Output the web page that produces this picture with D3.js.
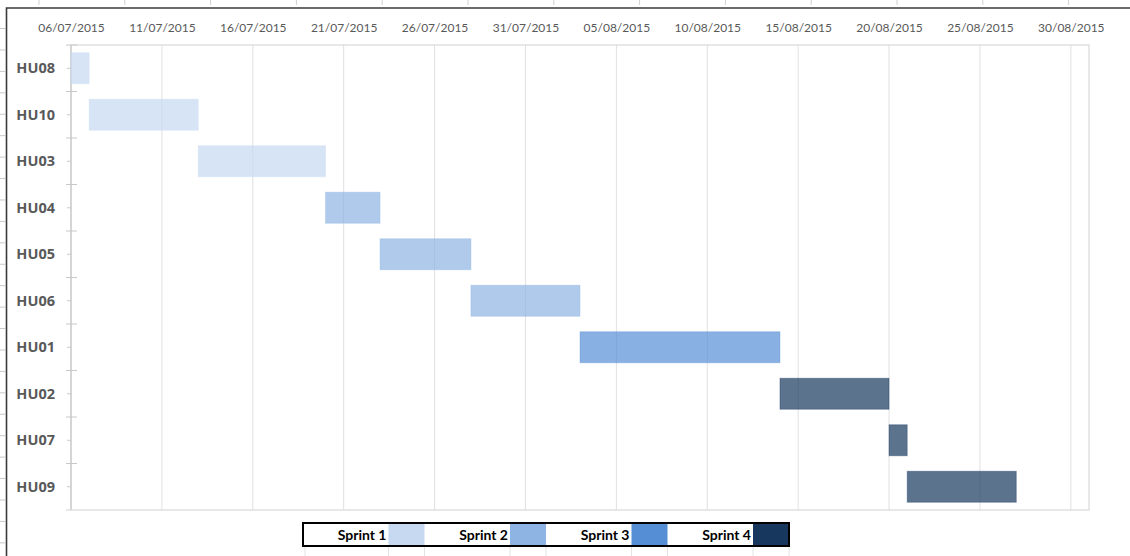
<!DOCTYPE html>
<html>
<head>
<meta charset="utf-8">
<script src="https://cdn.jsdelivr.net/npm/d3@7"></script>
<style>
  html, body { margin: 0; padding: 0; background: #fff; }
  svg { display: block; }
</style>
</head>
<body>
<svg id="chart" width="1130" height="556"></svg>
<script>
// ---- data ----
const tasks = ["HU08", "HU10", "HU03", "HU04", "HU05", "HU06", "HU01", "HU02", "HU07", "HU09"];
const startDates = ["2015-07-06", "2015-07-07", "2015-07-13", "2015-07-20", "2015-07-23", "2015-07-28", "2015-08-03", "2015-08-14", "2015-08-20", "2015-08-21"];
const durations = [1, 6, 7, 3, 5, 6, 11, 6, 1, 6];
const taskSprint = [0, 0, 0, 1, 1, 1, 2, 3, 3, 3];
const sprints = ["Sprint 1", "Sprint 2", "Sprint 3", "Sprint 4"];
const sprintColors = ["#c6d9f1", "#8eb4e3", "#558ed5", "#17375e"];
const tickDates = ["2015-07-06", "2015-07-11", "2015-07-16", "2015-07-21", "2015-07-26", "2015-07-31",
                   "2015-08-05", "2015-08-10", "2015-08-15", "2015-08-20", "2015-08-25", "2015-08-30"];
const domainDates = ["2015-07-06", "2015-08-31"];

// ---- setup ----
const parse = d3.utcParse("%Y-%m-%d");
const fmt = d3.utcFormat("%d/%m/%Y");
const svg = d3.select("#chart");
const W = 1130, H = 556;
const plot = { left: 71, right: 1089, top: 45, bottom: 510 };

const x = d3.scaleUtc().domain(domainDates.map(parse)).range([plot.left, plot.right]);
const y = d3.scaleBand().domain(tasks).range([plot.top, plot.bottom]).paddingInner(1/3).paddingOuter(1/6);

// Excel sheet decorations (frame and ruler marks)
const deco = svg.append("g");
d3.range(0, 26).forEach(k => {
  const yy = 7.1 + 21.43 * k;
  if (yy > 10) deco.append("line").attr("x1", 0).attr("x2", 5).attr("y1", yy).attr("y2", yy)
    .attr("stroke", "#c8c8c8").attr("stroke-width", 1);
});
d3.range(0, 14).forEach(k => {
  const xx = 39 + 85.8 * k;
  deco.append("line").attr("x1", xx).attr("x2", xx).attr("y1", 0).attr("y2", 5)
    .attr("stroke", "#d0d0d0").attr("stroke-width", 1);
});
deco.append("path").attr("d", `M6.5,${H} V8 H${W}`)
  .attr("fill", "none").attr("stroke", "#3a3a3a").attr("stroke-width", 1.6);

// ---- gridlines ----
const grid = svg.append("g");
grid.selectAll("line.g").data(tickDates.map(parse)).join("line")
  .attr("class", "g")
  .attr("x1", d => x(d)).attr("x2", d => x(d))
  .attr("y1", plot.top).attr("y2", plot.bottom)
  .attr("stroke", "#e0e0e0").attr("stroke-width", 1);

// plot border
grid.append("rect").attr("x", plot.left).attr("y", plot.top)
  .attr("width", plot.right - plot.left).attr("height", plot.bottom - plot.top)
  .attr("fill", "none").attr("stroke", "#d9d9d9").attr("stroke-width", 1.2);
grid.append("line").attr("x1", 66).attr("x2", plot.left).attr("y1", plot.bottom).attr("y2", plot.bottom)
  .attr("stroke", "#d9d9d9").attr("stroke-width", 1.2);
grid.append("line").attr("x1", plot.left).attr("x2", plot.left).attr("y1", plot.top).attr("y2", plot.bottom)
  .attr("stroke", "#d4d4d4").attr("stroke-width", 1.8);

// category ticks
const step = y.step();
const bounds = d3.range(0, tasks.length).map(i => plot.top + i * step);
grid.selectAll("line.bt").data(bounds).join("line")
  .attr("class", "bt")
  .attr("x1", 66).attr("x2", 77).attr("y1", d => d).attr("y2", d => d)
  .attr("stroke", "#c8c8c8").attr("stroke-width", 1);
grid.selectAll("line.ct").data(tasks).join("line")
  .attr("class", "ct")
  .attr("x1", 67).attr("x2", 71)
  .attr("y1", d => y(d) + y.bandwidth() / 2).attr("y2", d => y(d) + y.bandwidth() / 2)
  .attr("stroke", "#c8c8c8").attr("stroke-width", 1);

// ---- bars ----
const bars = tasks.map((t, i) => {
  const s = parse(startDates[i]);
  return { t, s, e: d3.utcDay.offset(s, durations[i]), sp: taskSprint[i] };
});
svg.append("g").selectAll("rect").data(bars).join("rect")
  .attr("x", d => x(d.s))
  .attr("y", d => y(d.t))
  .attr("width", d => x(d.e) - x(d.s))
  .attr("height", y.bandwidth())
  .attr("fill", d => sprintColors[d.sp])
  .attr("fill-opacity", 0.7)
  .attr("stroke", d => sprintColors[d.sp])
  .attr("stroke-opacity", 0.35)
  .attr("stroke-width", 1);

// ---- x axis (top) ----
const xAxis = d3.axisTop(x).tickValues(tickDates.map(parse)).tickFormat(fmt).tickSize(0).tickPadding(0);
const gx = svg.append("g").attr("transform", "translate(0,31.5)").call(xAxis);
gx.select(".domain").remove();
gx.selectAll("text")
  .attr("y", 0).attr("dy", 0)
  .attr("fill", "#595959")
  .style("font-family", "Lato, 'Open Sans', sans-serif")
  .style("font-size", "12px");

// ---- y axis labels ----
const yAxis = d3.axisLeft(y).tickSize(0).tickPadding(0);
const gy = svg.append("g").attr("transform", "translate(55,0)").call(yAxis);
gy.select(".domain").remove();
gy.selectAll("text")
  .attr("dy", "0.36em")
  .attr("fill", "#595959")
  .style("font-family", "'Open Sans', sans-serif")
  .style("font-weight", "bold")
  .style("font-size", "14.5px");

// ---- legend ----
const lg = { x0: 303, x1: 789, y0: 523, y1: 546, sw: 36 };
const lx = d3.scaleBand().domain(sprints).range([lg.x0, lg.x1]);
const legend = svg.append("g");
// faint cell lines below legend
const cellLines = [lg.x0 + 2];
sprints.forEach(s => { cellLines.push(lx(s) + lx.bandwidth() - lg.sw, lx(s) + lx.bandwidth()); });
legend.selectAll("line.cl").data(cellLines).join("line")
  .attr("class", "cl")
  .attr("x1", d => d).attr("x2", d => d).attr("y1", lg.y1).attr("y2", H)
  .attr("stroke", "#e3e3e3").attr("stroke-width", 1);
legend.append("rect").attr("x", lg.x0).attr("y", lg.y0)
  .attr("width", lg.x1 - lg.x0).attr("height", lg.y1 - lg.y0).attr("fill", "#fff");
legend.selectAll("rect.sw").data(sprints).join("rect")
  .attr("class", "sw")
  .attr("x", d => lx(d) + lx.bandwidth() - lg.sw)
  .attr("y", lg.y0)
  .attr("width", lg.sw)
  .attr("height", lg.y1 - lg.y0)
  .attr("fill", (d, i) => sprintColors[i]);
legend.selectAll("text").data(sprints).join("text")
  .attr("x", d => lx(d) + lx.bandwidth() - lg.sw - 2)
  .attr("y", 539.5)
  .attr("text-anchor", "end")
  .attr("fill", "#000")
  .style("font-family", "Lato, sans-serif")
  .style("font-weight", "bold")
  .style("font-size", "14px")
  .text(d => d);
legend.append("rect").attr("x", lg.x0).attr("y", lg.y0)
  .attr("width", lg.x1 - lg.x0).attr("height", lg.y1 - lg.y0)
  .attr("fill", "none").attr("stroke", "#000").attr("stroke-width", 2);
</script>
</body>
</html>
